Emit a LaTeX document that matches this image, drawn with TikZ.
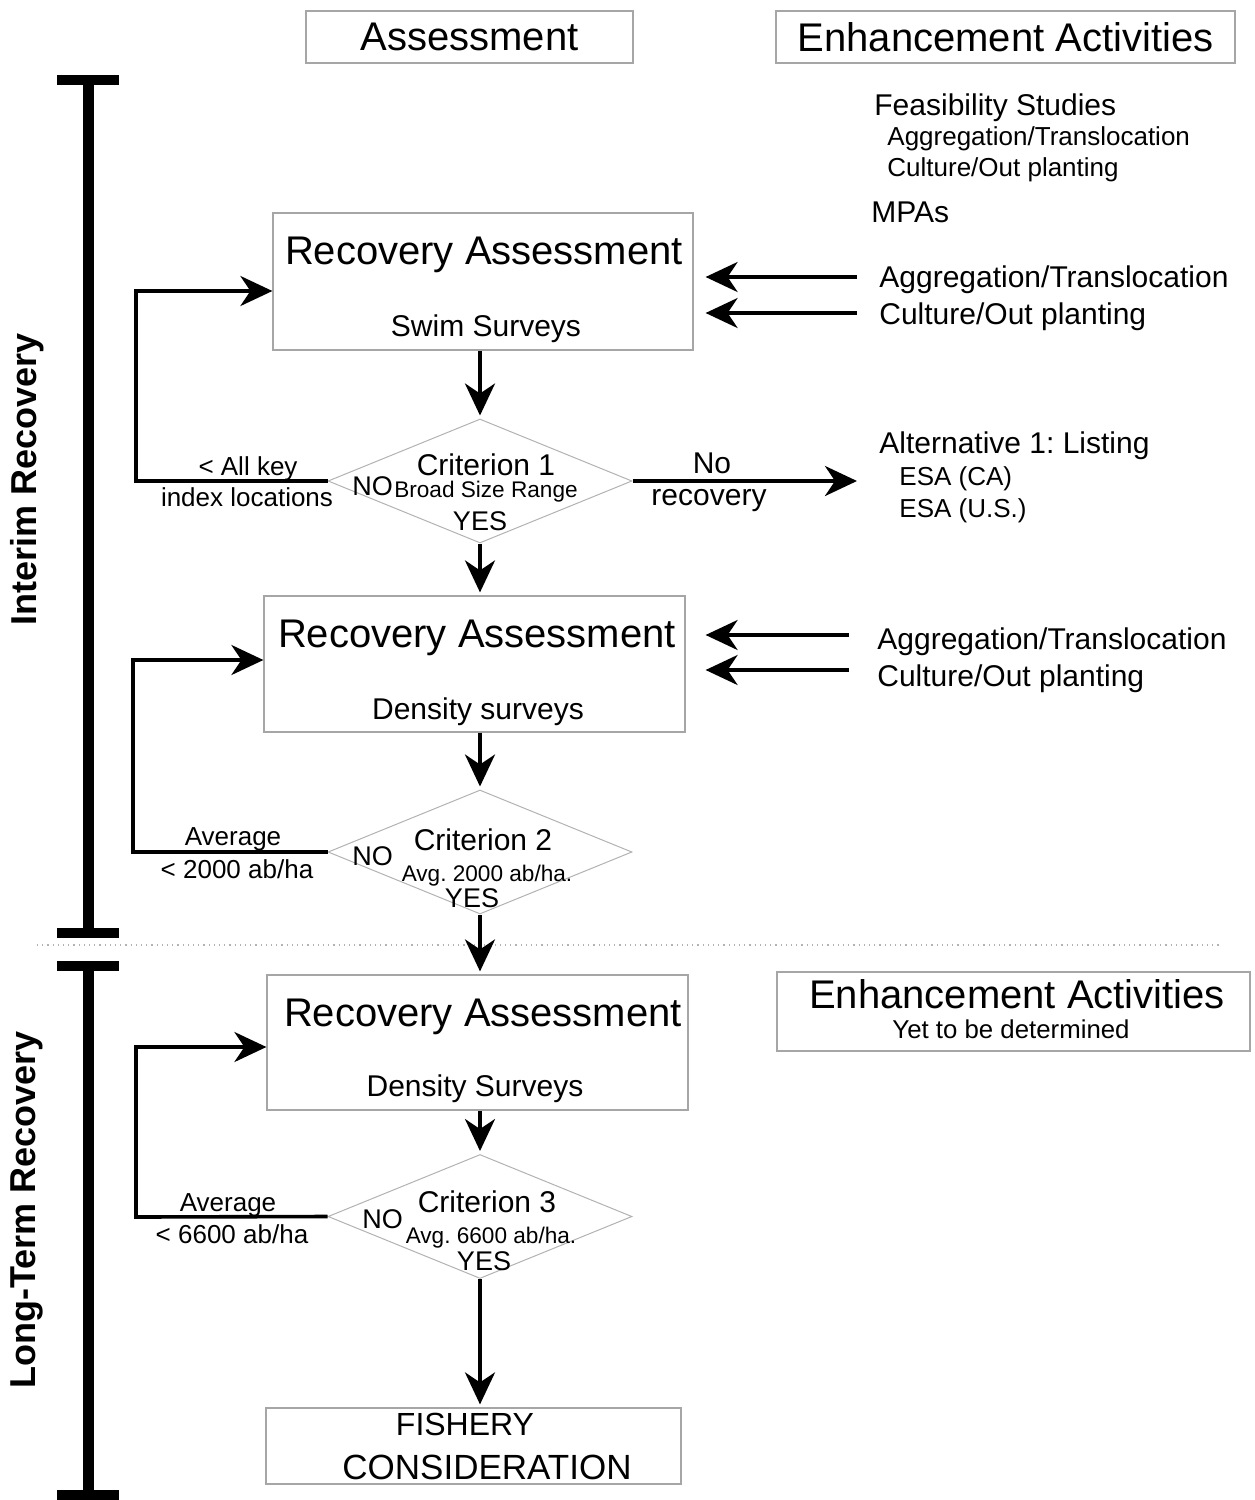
\documentclass[tikz,border=0pt]{standalone}
\usepackage{fontspec}
\setmainfont{Liberation Sans}
\usetikzlibrary{arrows.meta,shapes.geometric,positioning}
\frenchspacing

\newcommand{\bigf}{\fontsize{20}{24}\selectfont}
\newcommand{\midf}{\fontsize{15}{18}\selectfont}
\newcommand{\smf}{\fontsize{13}{16}\selectfont}
\newcommand{\ynf}{\fontsize{13.5}{16}\selectfont}
\newcommand{\tnf}{\fontsize{11.3}{13}\selectfont}

\tikzset{
  box/.style={draw=gray!70,line width=0.6pt,inner sep=0pt},
  crit/.style={diamond,draw=gray!60,line width=0.5pt,inner sep=0pt,minimum width=152pt,minimum height=62pt},
  txt/.style={inner sep=0pt,anchor=base},
  lft/.style={inner sep=0pt,anchor=base west},
  flow/.style={line width=1.8pt,-{Stealth[length=16pt,width=15pt,inset=5pt]}},
  phase/.style={line width=5.5pt},
  barcap/.style={line width=5pt},
  phasetxt/.style={rotate=90,inner sep=0pt,font=\bfseries\fontsize{18}{20}\selectfont}
}

\begin{document}
\begin{tikzpicture}[x=0.5pt,y=-0.5pt]
\useasboundingbox (0,0) rectangle (1254,1500);

% column heads
\node[box,minimum width=163.5pt,minimum height=26pt,font=\bigf] (hAss) at (469.5,37) {Assessment};
\node[box,minimum width=229.5pt,minimum height=26pt,font=\bigf] (hEnh) at (1005.5,37) {Enhancement Activities};

% phases
\draw[phase] (88.5,80) -- (88.5,933);
\draw[barcap] (57,80) -- (119,80);
\draw[barcap] (57,933) -- (119,933);
\draw[phase] (88.5,966) -- (88.5,1500);
\draw[barcap] (57,966) -- (119,966);
\draw[barcap] (57,1495) -- (119,1495);
\node[phasetxt] (phInt) at (27,479) {Interim Recovery};
\node[phasetxt] (phLong) at (27,1210) {Long-Term Recovery};
\draw[gray!60,dotted,line width=0.6pt] (37,945) -- (1220,945);

% feasibility
\node[lft,font=\midf] (feas) at (874,115) {Feasibility Studies};
\node[lft,font=\smf] (feasA) at (887,145) {Aggregation/Translocation};
\node[lft,font=\smf] (feasC) at (887,176) {Culture/Out planting};
\node[lft,font=\midf] (mpa) at (871,222) {MPAs};

% assessment boxes
\node[box,minimum width=210pt,minimum height=68.5pt] (ra1) at (483,281.5) {};
\node[txt,font=\bigf] (ra1t) at (484,264) {Recovery Assessment};
\node[txt,font=\midf] (ra1s) at (486,336) {Swim Surveys};

\node[box,minimum width=210.5pt,minimum height=68pt] (ra2) at (474.5,664) {};
\node[txt,font=\bigf] (ra2t) at (477,647) {Recovery Assessment};
\node[txt,font=\midf] (ra2s) at (478,719) {Density surveys};

\node[box,minimum width=210.5pt,minimum height=67.5pt] (ra3) at (477.5,1042.5) {};
\node[txt,font=\bigf] (ra3t) at (483,1026) {Recovery Assessment};
\node[txt,font=\midf] (ra3s) at (475,1096) {Density Surveys};

\node[box,minimum width=207.5pt,minimum height=38pt] (fish) at (473.5,1446) {};
\node[txt,font=\fontsize{16}{18}\selectfont] (fishA) at (465,1435) {FISHERY};
\node[txt,font=\fontsize{17.5}{20}\selectfont] (fishB) at (487,1479) {CONSIDERATION};

% criteria
\node[crit] (c1) at (480,481) {};
\node[txt,font=\midf] at (486,475) {Criterion 1};
\node[lft,font=\ynf] at (352,495) {NO};
\node[txt,font=\tnf] at (486,497) {Broad Size Range};
\node[txt,font=\ynf] at (480,530) {YES};

\node[crit] (c2) at (480,852) {};
\node[txt,font=\midf] at (483,850) {Criterion 2};
\node[lft,font=\ynf] at (352,865) {NO};
\node[txt,font=\tnf] at (487,881) {Avg. 2000 ab/ha.};
\node[txt,font=\ynf] at (472,907) {YES};

\node[crit] (c3) at (480,1216.5) {};
\node[txt,font=\midf] at (487,1212) {Criterion 3};
\node[lft,font=\ynf] at (362,1228) {NO};
\node[txt,font=\tnf] at (491,1243) {Avg. 6600 ab/ha.};
\node[txt,font=\ynf] at (484,1270) {YES};

% main flow
\foreach \a/\b in {ra1/c1,c1/ra2,ra2/c2,c2/ra3,ra3/c3,c3/fish}
  \draw[flow,shorten >=1.5pt] (\a.south -| c1) -- (\b.north -| c1);

% loops back
\draw[flow] (c1.west) -- (136,481) |- (ra1.west |- 0,291);
\node[txt,font=\smf] (lp1a) at (248,475) {< All key};
\node[txt,font=\smf] (lp1b) at (247,506) {index locations};

\draw[flow] (c2.west) -- (133,852) |- (ra2.west |- 0,660);
\node[txt,font=\smf] (lp2a) at (233,845) {Average};
\node[txt,font=\smf] (lp2b) at (237,878) {< 2000 ab/ha};

\draw[flow] (c3.west) -- (136,1217) |- (ra3.west |- 0,1047);
\node[txt,font=\smf] (lp3a) at (228,1211) {Average};
\node[txt,font=\smf] (lp3b) at (232,1243) {< 6600 ab/ha};

% no recovery
\coordinate (noRec) at (857,481);
\draw[flow] (c1.east) -- (noRec);
\node[txt,font=\midf] (noA) at (712,473) {No};
\node[txt,font=\midf] (noB) at (709,505) {recovery};
\node[lft,font=\midf] (alt) at (879,453) {Alternative 1: Listing};
\node[lft,font=\smf] (esaA) at (899,485) {ESA (CA)};
\node[lft,font=\smf] (esaB) at (899,517) {ESA (U.S.)};

% enhancement inputs
\coordinate (e1) at (857,277);
\coordinate (e2) at (857,313);
\coordinate (e3) at (849,635);
\coordinate (e4) at (849,670);
\draw[flow,shorten >=6pt] (e1) -- (e1 -| ra1.east);
\draw[flow,shorten >=6pt] (e2) -- (e2 -| ra1.east);
\draw[flow,shorten >=10pt] (e3) -- (e3 -| ra2.east);
\draw[flow,shorten >=10pt] (e4) -- (e4 -| ra2.east);
\node[lft,font=\midf] (agg1) at (879,287) {Aggregation/Translocation};
\node[lft,font=\midf] (cul1) at (879,324) {Culture/Out planting};
\node[lft,font=\midf] (agg2) at (877,649) {Aggregation/Translocation};
\node[lft,font=\midf] (cul2) at (877,686) {Culture/Out planting};

% long term enhancement
\node[box,minimum width=236.5pt,minimum height=39.5pt] (hEnh2) at (1013.5,1011.5) {};
\node[txt,font=\bigf] (enh2t) at (1017,1008) {Enhancement Activities};
\node[txt,font=\fontsize{12.9}{15}\selectfont] (enh2s) at (1011,1038) {Yet to be determined};
\end{tikzpicture}
\end{document}
